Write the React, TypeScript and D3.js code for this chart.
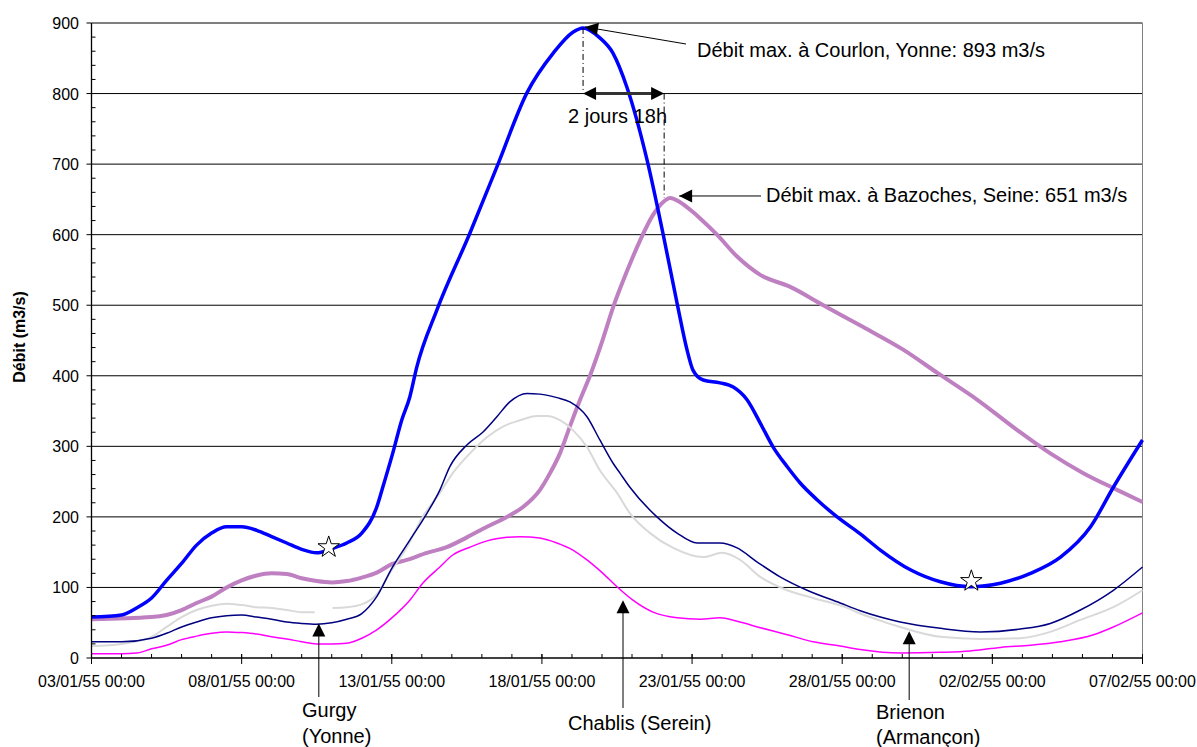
import React from "react";
import * as d3 from "d3";

type Pt = [number, number | null];

const W = 1197;
const H = 747;

// x in days since 03/01/55 00:00, y in m3/s
const courlon: Pt[] = [
  [0, 58], [1, 61], [1.5, 71], [2, 85], [2.5, 110], [3, 134], [3.5, 160], [4, 177], [4.5, 186], [5, 186],
  [5.5, 181], [6, 172], [6.5, 163], [7, 154], [7.5, 149], [8, 155], [8.5, 163], [9, 177], [9.5, 214],
  [9.7, 242], [10.03, 290], [10.33, 337], [10.6, 370], [10.83, 412], [11.5, 493], [12.6, 602], [13.5, 696],
  [14.5, 801], [15.37, 857], [16.03, 887], [16.37, 893], [16.9, 880], [17.37, 857], [17.83, 809], [18.5, 706],
  [19.03, 602], [19.5, 503], [19.83, 437], [20.03, 408], [20.37, 394], [20.93, 390], [21.37, 384],
  [21.83, 366], [22.27, 333], [22.7, 299], [23.17, 271], [23.6, 248], [24.17, 224], [24.83, 200],
  [25.6, 176], [26.27, 153], [27.27, 125], [28.27, 108], [29.27, 101], [30.27, 106], [31.27, 120],
  [32.27, 143], [33.27, 186], [34.03, 242], [35, 309],
];

const bazoches: Pt[] = [
  [0, 55], [2, 58], [2.5, 61], [3, 68], [3.5, 78], [4, 87], [4.5, 100], [5, 110], [5.5, 117], [6, 120],
  [6.5, 119], [7, 113], [7.5, 109], [8, 107], [8.5, 109], [9, 114], [9.5, 121], [10, 133], [10.5, 139],
  [11.17, 149], [11.83, 157], [12.5, 171], [13.17, 186], [13.83, 200], [14.37, 214], [14.93, 238],
  [15.27, 262], [15.6, 290], [15.93, 328], [16.27, 366], [16.6, 400], [17.0, 448], [17.37, 497],
  [17.83, 548], [18.27, 592], [18.7, 628], [19.03, 646], [19.27, 652], [19.6, 646], [20.03, 632],
  [20.27, 623], [20.83, 600], [21.5, 569], [22.27, 543], [23.27, 526], [24.37, 500], [25.7, 469],
  [27.03, 437], [28.17, 404], [29.5, 366], [30.83, 323], [31.93, 290], [33.03, 262], [34.17, 238], [35, 221],
];

const gurgy: Pt[] = [
  [0, 23], [1, 23], [2, 28], [2.5, 35], [3, 44], [3.5, 51], [4, 57], [4.5, 60], [5, 61], [5.5, 58],
  [6, 55], [6.5, 51], [7, 49], [7.5, 48], [8, 50], [8.5, 55], [9, 63], [9.5, 87], [10, 127], [10.6, 167],
  [11.17, 205], [11.6, 238], [11.93, 271], [12.5, 302], [13.03, 320], [13.5, 342], [13.93, 363],
  [14.5, 375], [14.93, 374], [15.5, 369], [15.93, 363], [16.5, 342], [16.93, 309], [17.37, 276],
  [17.6, 262], [17.93, 242], [18.83, 200], [19.5, 177], [20.17, 163], [20.93, 163], [21.5, 156],
  [22.17, 136], [22.93, 115], [23.83, 96], [24.93, 78], [25.6, 67], [26.27, 58], [26.93, 51],
  [28.27, 42], [29.6, 37], [30.93, 41], [31.93, 49], [32.93, 68], [34.03, 96], [35, 129],
];

const brienon: Pt[] = [
  [0, 17], [1, 20], [2, 30], [2.5, 44], [3, 58], [3.5, 68], [4, 74], [4.5, 77], [5, 75], [5.5, 72],
  [6, 71], [6.5, 68], [7, 65], [7.43, 65], [7.6, null], [8.03, 71], [8.5, 72], [9, 76], [9.5, 90],
  [9.93, 120], [10.5, 157], [11.03, 200], [11.6, 234], [12.03, 262], [12.6, 290], [13.17, 313],
  [13.7, 328], [14.27, 337], [14.83, 343], [15.17, 343], [15.6, 337], [16.03, 323], [16.5, 299],
  [16.93, 266], [17.5, 234], [17.93, 205], [18.6, 177], [19.37, 156], [20.37, 143], [21, 149],
  [21.6, 139], [22.27, 115], [23.17, 96], [24.03, 85], [25.17, 71], [25.6, 63], [26.27, 53],
  [26.93, 44], [28.27, 30], [29.6, 27], [30.93, 28], [31.93, 37], [32.93, 54], [34.03, 72], [35, 96],
];

const chablis: Pt[] = [
  [0, 6], [1, 6], [1.5, 7], [2, 13], [2.5, 18], [3, 26], [3.5, 31], [4, 35], [4.5, 37], [5, 36],
  [5.5, 34], [6, 30], [6.5, 27], [7, 23], [7.5, 20], [8, 20], [8.5, 21], [9, 28], [9.5, 40], [10.03, 58],
  [10.6, 82], [11.03, 106], [11.6, 129], [12.03, 146], [12.6, 157], [13.17, 166], [13.83, 171],
  [14.27, 172], [14.93, 170], [15.5, 163], [16.03, 153], [16.5, 139], [17.03, 120], [17.5, 101],
  [18.03, 82], [18.7, 65], [19.5, 57], [20.27, 55], [20.93, 57], [21.5, 52], [22.27, 43], [23.17, 33],
  [24.03, 23], [24.93, 17], [25.6, 12], [26.93, 7], [28.27, 8], [29.27, 10], [30.27, 15], [31.27, 18],
  [32.27, 23], [33.37, 33], [34.03, 44], [35, 64],
];

const stars: [number, number][] = [[7.9, 157], [29.3, 109]];

const lagDays = 2.75; // 2 jours 18h

const xTickDays = [0, 5, 10, 15, 20, 25, 30, 35];
const xTickLabels = [
  "03/01/55 00:00", "08/01/55 00:00", "13/01/55 00:00", "18/01/55 00:00",
  "23/01/55 00:00", "28/01/55 00:00", "02/02/55 00:00", "07/02/55 00:00",
];
const yTicks = [0, 100, 200, 300, 400, 500, 600, 700, 800, 900];

const FONT = "'Liberation Sans', Arial, sans-serif";

function arrowHead(tip: [number, number], from: [number, number], len = 13, half = 6.5) {
  const dx = tip[0] - from[0], dy = tip[1] - from[1];
  const L = Math.hypot(dx, dy) || 1;
  const ux = dx / L, uy = dy / L;
  const bx = tip[0] - ux * len, by = tip[1] - uy * len;
  const px = -uy, py = ux;
  return `${tip[0]},${tip[1]} ${bx + px * half},${by + py * half} ${bx - px * half},${by - py * half}`;
}

export default function App() {
  const x = d3.scaleLinear().domain([0, 35]).range([91.5, 1142.5]);
  const y = d3.scaleLinear().domain([0, 900]).range([658, 23]);
  const line = d3
    .line<Pt>()
    .defined((d) => d[1] !== null)
    .x((d) => x(d[0]))
    .y((d) => y(d[1] as number))
    .curve(d3.curveMonotoneX);

  const peakOf = (s: Pt[]) => s.reduce((a, b) => ((b[1] ?? -1) > (a[1] ?? -1) ? b : a));
  const pc = peakOf(courlon);
  const pb = peakOf(bazoches);
  const pcx = x(pc[0]), pcy = y(pc[1] as number);
  const lagx = x(pc[0] + lagDays) - 1.5;
  const pbx = x(pb[0]), pby = y(pb[1] as number);
  const y800 = y(800);

  const minorX = d3.range(0, 36);
  const minorY = d3.range(0, 901, 20).filter((v) => v % 100 !== 0);
  const starPath = d3.symbol().type(d3.symbolStar).size(143)();

  const labelArrows = [
    { day: 7.57, v: 49, bottom: 697 },
    { day: 17.7, v: 82, bottom: 708 },
    { day: 27.23, v: 38, bottom: 700 },
  ];

  return (
    <svg width={W} height={H} style={{ position: "absolute", left: 0, top: 0, background: "#fff" }} fontFamily={FONT}>
      <rect width={W} height={H} fill="#fff" />
      {yTicks.filter((v) => v > 0).map((v) => (
        <line key={v} x1={x(0)} x2={x(35)} y1={y(v)} y2={y(v)} stroke="#000" strokeWidth={1} />
      ))}
      <line x1={x(35)} x2={x(35)} y1={y(900)} y2={y(0)} stroke="#808080" strokeWidth={1} />

      <path d={line(bazoches) || ""} fill="none" stroke="#BF80C2" strokeWidth={4} />
      <path d={line(brienon) || ""} fill="none" stroke="#D9D9D9" strokeWidth={2} />
      <path d={line(gurgy) || ""} fill="none" stroke="#000080" strokeWidth={1.5} />
      <path d={line(chablis) || ""} fill="none" stroke="#FF00FF" strokeWidth={1.5} />
      <path d={line(courlon) || ""} fill="none" stroke="#0000FF" strokeWidth={3.5} />

      {stars.map((s, i) => (
        <path key={i} d={starPath || ""} transform={`translate(${x(s[0])},${y(s[1])})`} fill="#fff" stroke="#000" strokeWidth={1} />
      ))}

      <line x1={x(0)} x2={x(0)} y1={y(900)} y2={y(0)} stroke="#000" strokeWidth={1.3} />
      <line x1={x(0)} x2={x(35)} y1={y(0)} y2={y(0)} stroke="#000" strokeWidth={1.3} />
      {yTicks.map((v) => (
        <g key={v}>
          <line x1={x(0) - 5} x2={x(0)} y1={y(v)} y2={y(v)} stroke="#000" />
          <text x={79} y={y(v) + 6} textAnchor="end" fontSize={16} fill="#000">{v}</text>
        </g>
      ))}
      {minorY.map((v) => (
        <line key={v} x1={x(0)} x2={x(0) + 4} y1={y(v)} y2={y(v)} stroke="#000" />
      ))}
      {minorX.map((d) => (
        <line key={d} x1={x(d)} x2={x(d)} y1={y(0) - 4} y2={y(0)} stroke="#000" />
      ))}
      {xTickDays.map((d, i) => (
        <g key={d}>
          <line x1={x(d)} x2={x(d)} y1={y(0) - 4} y2={y(0) + 6} stroke="#000" />
          <text x={x(d)} y={687} textAnchor="middle" fontSize={16} fill="#000">{xTickLabels[i]}</text>
        </g>
      ))}
      <text transform="translate(25,337) rotate(-90)" textAnchor="middle" fontSize={16} fontWeight="bold" fill="#000">
        Débit (m3/s)
      </text>

      <line x1={pcx + 2} y1={pcy - 1} x2={686} y2={44} stroke="#000" strokeWidth={1} />
      <polygon points={arrowHead([pcx + 2, pcy - 1], [686, 44])} fill="#000" />
      <text x={697} y={57} fontSize={20} fill="#000">Débit max. à Courlon, Yonne: 893 m3/s</text>

      <line x1={pcx} x2={pcx} y1={pcy} y2={y800} stroke="#000" strokeWidth={1} strokeDasharray="6,3,1,3" />
      <line x1={lagx} x2={lagx} y1={y800} y2={pby} stroke="#000" strokeWidth={1} strokeDasharray="6,3,1,3" />
      <line x1={pcx + 10} x2={lagx - 10} y1={y800} y2={y800} stroke="#333" strokeWidth={3} />
      <polygon points={arrowHead([pcx, y800], [lagx, y800])} fill="#000" />
      <polygon points={arrowHead([lagx, y800], [pcx, y800])} fill="#000" />
      <text x={pcx - 15} y={y800 + 29} fontSize={20} fill="#000">2 jours 18h</text>

      <line x1={pbx + 9} y1={pby - 2} x2={761} y2={pby - 2} stroke="#000" strokeWidth={1} />
      <polygon points={arrowHead([pbx + 9, pby - 2], [761, pby - 2])} fill="#000" />
      <text x={766} y={202} fontSize={20} fill="#000">Débit max. à Bazoches, Seine: 651 m3/s</text>

      {labelArrows.map((a, i) => (
        <g key={i}>
          <line x1={x(a.day)} x2={x(a.day)} y1={a.bottom} y2={y(a.v) + 10} stroke="#000" strokeWidth={1} />
          <polygon points={arrowHead([x(a.day), y(a.v)], [x(a.day), a.bottom])} fill="#000" />
        </g>
      ))}
      <text x={302} y={717} fontSize={20} fill="#000">Gurgy</text>
      <text x={302} y={743} fontSize={20} fill="#000">(Yonne)</text>
      <text x={568} y={730} fontSize={20} fill="#000">Chablis (Serein)</text>
      <text x={876} y={719} fontSize={20} fill="#000">Brienon</text>
      <text x={876} y={744} fontSize={20} fill="#000">(Armançon)</text>
    </svg>
  );
}
